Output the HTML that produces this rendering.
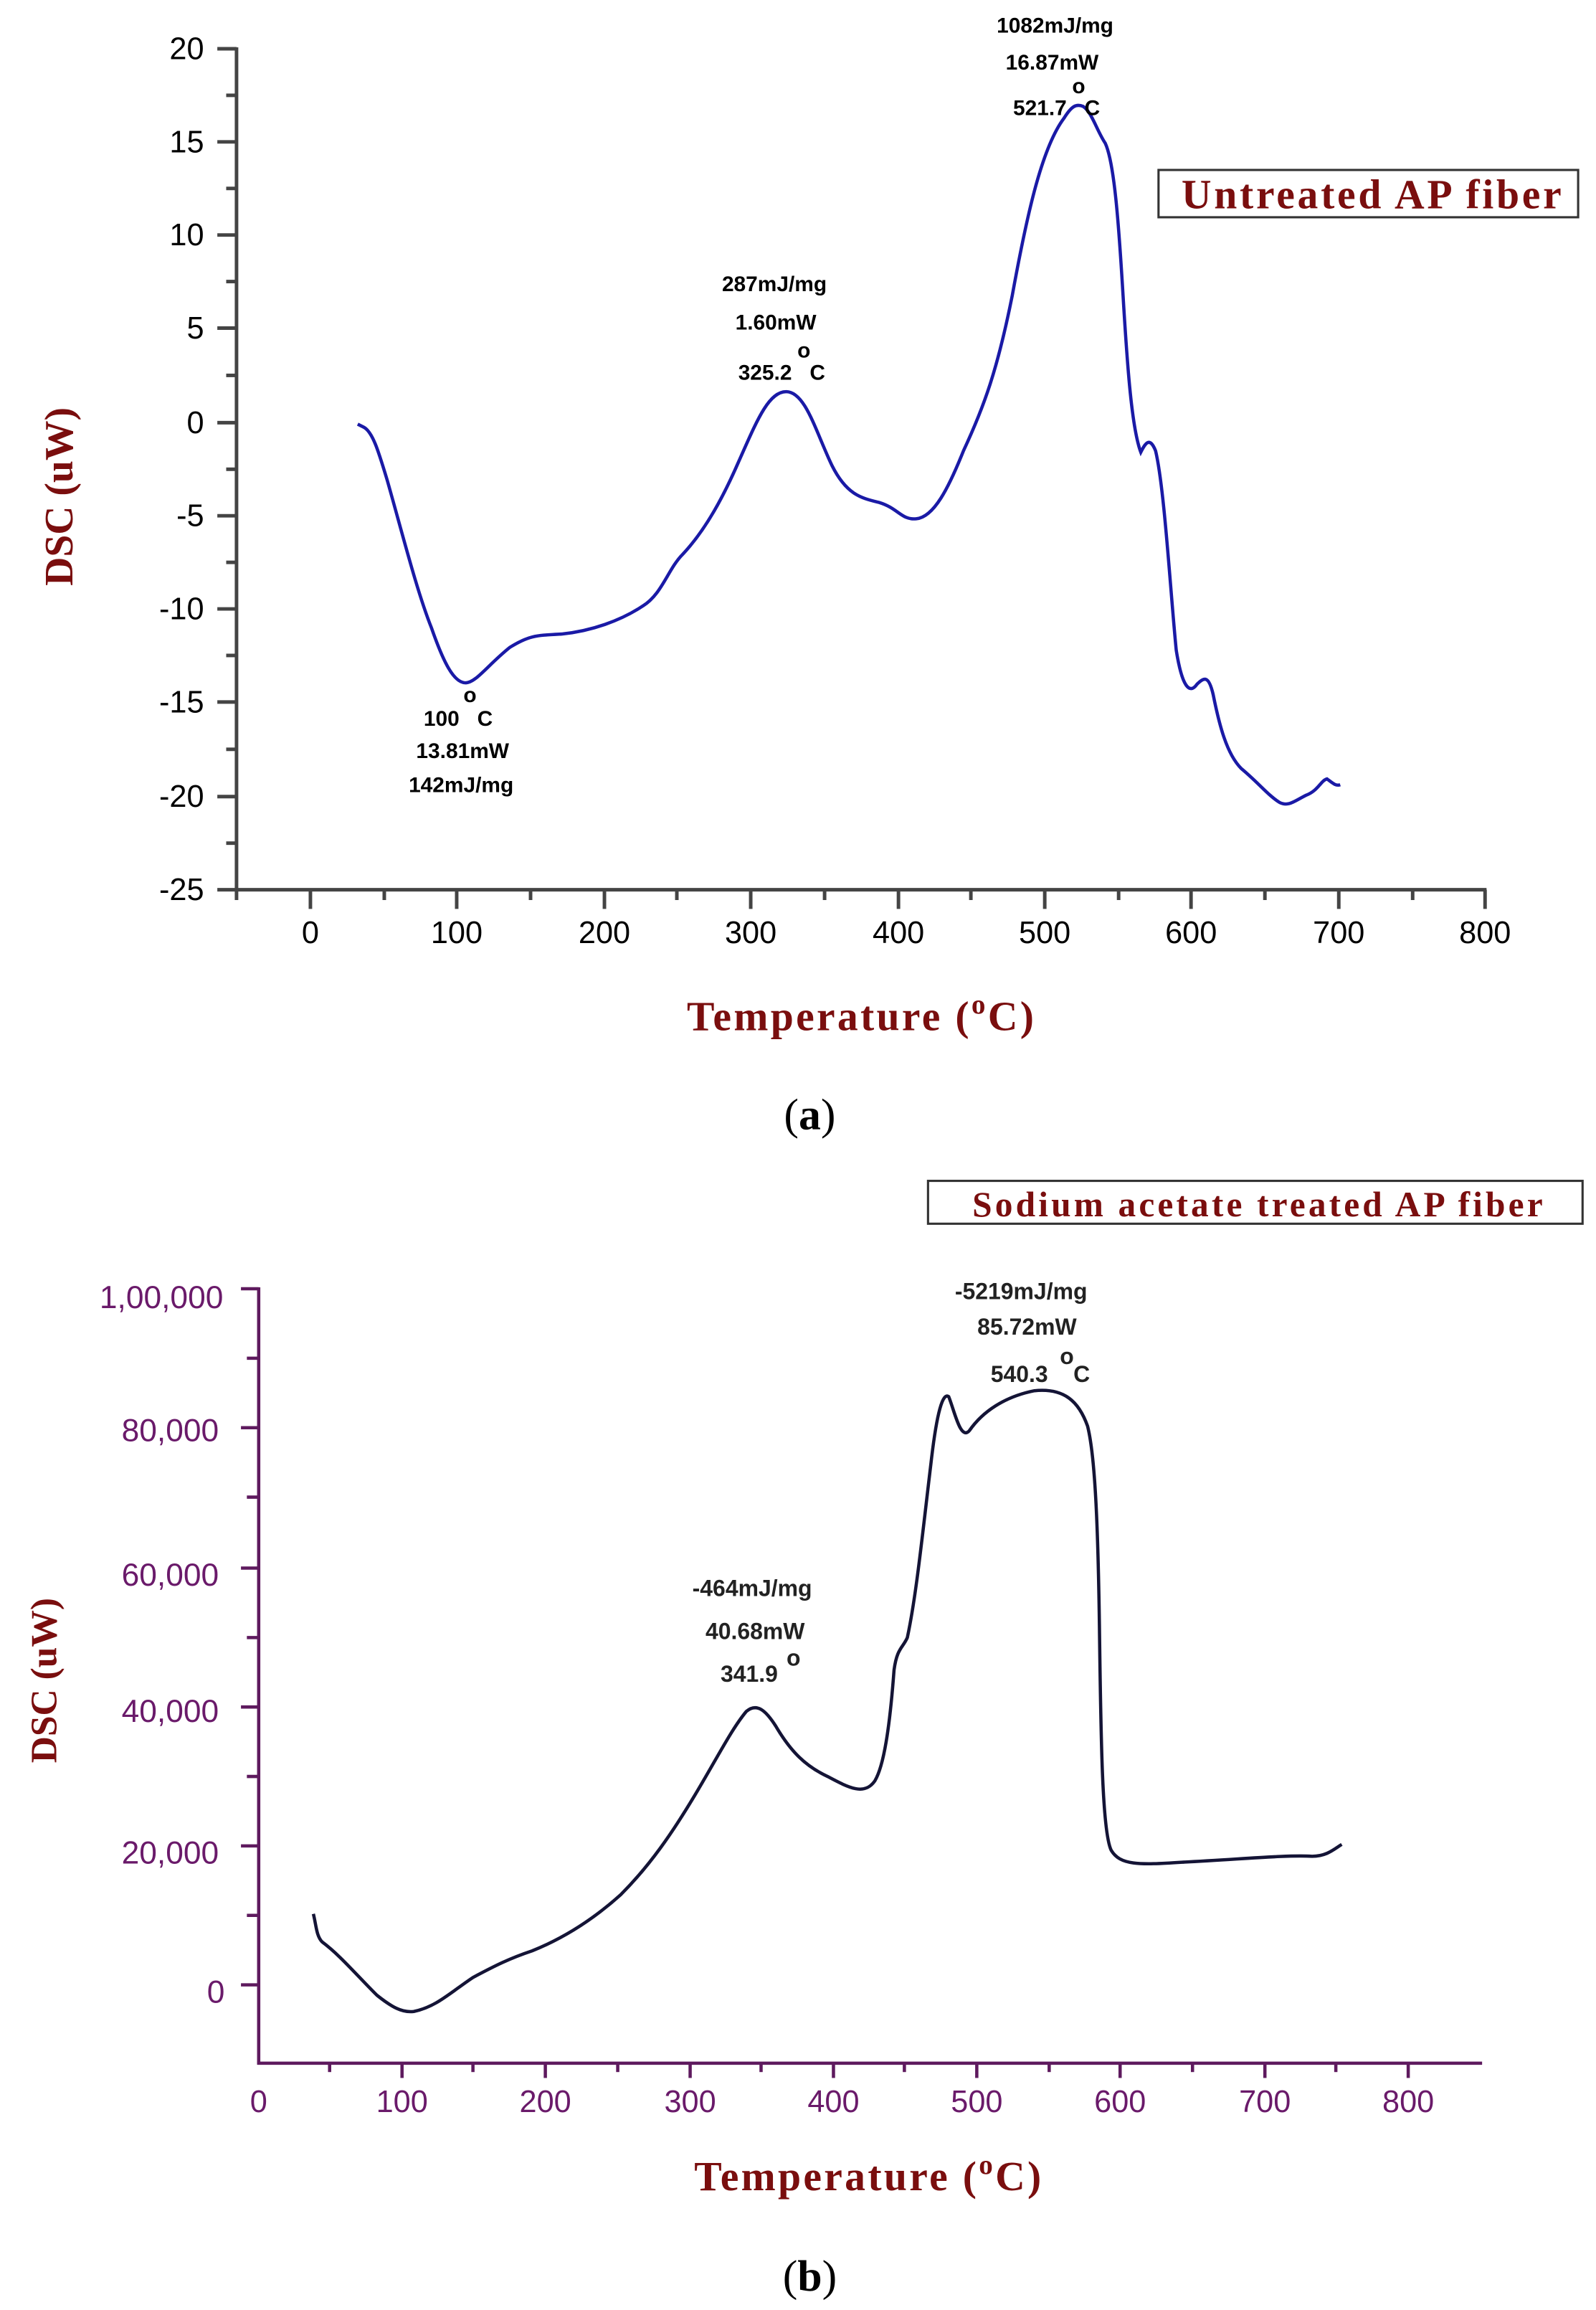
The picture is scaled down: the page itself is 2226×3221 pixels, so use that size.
<!DOCTYPE html>
<html><head><meta charset="utf-8"><style>
html,body{margin:0;padding:0;background:#fff;}
svg{display:block;}
</style></head><body>
<svg width="2226" height="3221" viewBox="0 0 1080 1563" xmlns="http://www.w3.org/2000/svg" font-family="Liberation Sans, sans-serif">
<rect width="1080" height="1563" fill="#fff"/>
<!-- Chart a -->
<g stroke="#444" stroke-width="2.4" fill="none">
<line x1="160" y1="32" x2="160" y2="603"/>
<line x1="158.8" y1="602" x2="1006" y2="602"/>
<line x1="147" y1="33" x2="160" y2="33"/><line x1="147" y1="96" x2="160" y2="96"/><line x1="147" y1="159" x2="160" y2="159"/><line x1="147" y1="222" x2="160" y2="222"/><line x1="147" y1="286" x2="160" y2="286"/><line x1="147" y1="349" x2="160" y2="349"/><line x1="147" y1="412" x2="160" y2="412"/><line x1="147" y1="475" x2="160" y2="475"/><line x1="147" y1="539" x2="160" y2="539"/><line x1="147" y1="602" x2="160" y2="602"/>
<line x1="153" y1="64.5" x2="160" y2="64.5"/><line x1="153" y1="127.5" x2="160" y2="127.5"/><line x1="153" y1="190.5" x2="160" y2="190.5"/><line x1="153" y1="254" x2="160" y2="254"/><line x1="153" y1="317.5" x2="160" y2="317.5"/><line x1="153" y1="380.5" x2="160" y2="380.5"/><line x1="153" y1="443.5" x2="160" y2="443.5"/><line x1="153" y1="507" x2="160" y2="507"/><line x1="153" y1="570.5" x2="160" y2="570.5"/>
<line x1="210" y1="602" x2="210" y2="615"/><line x1="309" y1="602" x2="309" y2="615"/><line x1="409" y1="602" x2="409" y2="615"/><line x1="508" y1="602" x2="508" y2="615"/><line x1="608" y1="602" x2="608" y2="615"/><line x1="707" y1="602" x2="707" y2="615"/><line x1="806" y1="602" x2="806" y2="615"/><line x1="906" y1="602" x2="906" y2="615"/><line x1="1005" y1="602" x2="1005" y2="615"/>
<line x1="160" y1="602" x2="160" y2="609"/><line x1="260" y1="602" x2="260" y2="609"/><line x1="359" y1="602" x2="359" y2="609"/><line x1="458" y1="602" x2="458" y2="609"/><line x1="558" y1="602" x2="558" y2="609"/><line x1="657" y1="602" x2="657" y2="609"/><line x1="757" y1="602" x2="757" y2="609"/><line x1="856" y1="602" x2="856" y2="609"/><line x1="956" y1="602" x2="956" y2="609"/>
</g>
<g font-size="21" fill="#000" text-anchor="end">
<text x="138" y="40">20</text><text x="138" y="103">15</text><text x="138" y="166">10</text><text x="138" y="229">5</text><text x="138" y="293">0</text><text x="138" y="356">-5</text><text x="138" y="419">-10</text><text x="138" y="482">-15</text><text x="138" y="546">-20</text><text x="138" y="609">-25</text>
</g>
<g font-size="21" fill="#000" text-anchor="middle">
<text x="210" y="638">0</text><text x="309" y="638">100</text><text x="409" y="638">200</text><text x="508" y="638">300</text><text x="608" y="638">400</text><text x="707" y="638">500</text><text x="806" y="638">600</text><text x="906" y="638">700</text><text x="1005" y="638">800</text>
</g>
<text x="583" y="697" font-family="Liberation Serif, serif" font-weight="bold" font-size="28" letter-spacing="1.6" fill="#7a0e0e" text-anchor="middle">Temperature (<tspan dy="-11" font-size="19">o</tspan><tspan dy="11">C)</tspan></text>
<text transform="translate(49,336) rotate(-90)" font-family="Liberation Serif, serif" font-weight="bold" font-size="27" fill="#7a0e0e" text-anchor="middle">DSC (uW)</text>
<rect x="784" y="115" width="284" height="32" fill="none" stroke="#333" stroke-width="1.5"/>
<text x="929" y="141" font-family="Liberation Serif, serif" font-weight="bold" font-size="28" letter-spacing="1.8" fill="#7a0e0e" text-anchor="middle">Untreated AP fiber</text>
<path fill="none" stroke="#1a1aa6" stroke-width="2.2" d="M242,287 L246,289 C252,292 256,305 262,325 C272,360 282,400 292,425 C300,448 307,462 315,462 C322,462 330,450 345,438 C358,430 362,430 380,429 C400,427 420,420 435,410 C448,402 452,385 462,375 C478,358 490,335 500,312 C512,285 520,265 532,265 C545,265 552,292 563,315 C573,335 583,337 595,340 C608,344 610,352 620,351 C632,350 642,330 652,305 C666,275 675,250 685,200 C695,145 705,100 720,80 C725,72 728,70 733,72 C739,76 742,88 748,97 C754,110 757,150 760,200 C763,250 766,290 772,306 C775,300 778,295 782,305 C788,330 792,400 796,440 C800,465 805,470 810,463 C815,458 818,457 821,470 C825,490 830,510 840,520 C852,530 858,538 866,543 C872,546 876,542 884,538 C892,535 894,528 898,527 C902,530 904,532 907,531"/>
<g font-size="14.5" font-weight="bold" fill="#000" text-anchor="middle">
<text x="714" y="22">1082mJ/mg</text><text x="712" y="47">16.87mW</text><text x="730" y="63">o</text><text x="715" y="78">521.7&#160;&#160;&#160;C</text>
<text x="524" y="197">287mJ/mg</text><text x="525" y="223">1.60mW</text><text x="544" y="242">o</text><text x="529" y="257">325.2&#160;&#160;&#160;C</text>
<text x="318" y="475">o</text><text x="310" y="491">100&#160;&#160;&#160;C</text><text x="313" y="513">13.81mW</text><text x="312" y="536">142mJ/mg</text>
</g>
<text x="548" y="764" font-family="Liberation Serif, serif" font-size="30" fill="#000" text-anchor="middle">(<tspan font-weight="bold">a</tspan>)</text>

<!-- Chart b -->
<rect x="628" y="799" width="443" height="29" fill="none" stroke="#333" stroke-width="1.5"/>
<text x="852" y="823" font-family="Liberation Serif, serif" font-weight="bold" font-size="24" fill="#7a0e0e" text-anchor="middle" letter-spacing="2">Sodium acetate treated AP fiber</text>
<g stroke="#5e1a5e" stroke-width="2.2" fill="none">
<line x1="175" y1="871" x2="175" y2="1397"/>
<line x1="174" y1="1396" x2="1003" y2="1396"/>
<line x1="163" y1="872" x2="175" y2="872"/><line x1="163" y1="966" x2="175" y2="966"/><line x1="163" y1="1061" x2="175" y2="1061"/><line x1="163" y1="1155" x2="175" y2="1155"/><line x1="163" y1="1249" x2="175" y2="1249"/><line x1="163" y1="1343" x2="175" y2="1343"/>
<line x1="167" y1="919" x2="175" y2="919"/><line x1="167" y1="1013" x2="175" y2="1013"/><line x1="167" y1="1108" x2="175" y2="1108"/><line x1="167" y1="1202" x2="175" y2="1202"/><line x1="167" y1="1296" x2="175" y2="1296"/>
<line x1="272" y1="1396" x2="272" y2="1406"/><line x1="369" y1="1396" x2="369" y2="1406"/><line x1="467" y1="1396" x2="467" y2="1406"/><line x1="564" y1="1396" x2="564" y2="1406"/><line x1="661" y1="1396" x2="661" y2="1406"/><line x1="758" y1="1396" x2="758" y2="1406"/><line x1="856" y1="1396" x2="856" y2="1406"/><line x1="953" y1="1396" x2="953" y2="1406"/>
<line x1="223" y1="1396" x2="223" y2="1402"/><line x1="320" y1="1396" x2="320" y2="1402"/><line x1="418" y1="1396" x2="418" y2="1402"/><line x1="515" y1="1396" x2="515" y2="1402"/><line x1="612" y1="1396" x2="612" y2="1402"/><line x1="710" y1="1396" x2="710" y2="1402"/><line x1="807" y1="1396" x2="807" y2="1402"/><line x1="904" y1="1396" x2="904" y2="1402"/>
</g>
<g font-size="21.5" fill="#6a1a6a" text-anchor="end">
<text x="151" y="885">1,00,000</text><text x="148" y="975">80,000</text><text x="148" y="1073">60,000</text><text x="148" y="1165">40,000</text><text x="148" y="1261">20,000</text><text x="152" y="1355">0</text>
</g>
<g font-size="21" fill="#6a1a6a" text-anchor="middle">
<text x="175" y="1429">0</text><text x="272" y="1429">100</text><text x="369" y="1429">200</text><text x="467" y="1429">300</text><text x="564" y="1429">400</text><text x="661" y="1429">500</text><text x="758" y="1429">600</text><text x="856" y="1429">700</text><text x="953" y="1429">800</text>
</g>
<text x="588" y="1482" font-family="Liberation Serif, serif" font-weight="bold" font-size="28" letter-spacing="1.6" fill="#7a0e0e" text-anchor="middle">Temperature (<tspan dy="-11" font-size="19">o</tspan><tspan dy="11">C)</tspan></text>
<text transform="translate(38,1137) rotate(-90)" font-family="Liberation Serif, serif" font-weight="bold" font-size="25" fill="#7a0e0e" text-anchor="middle">DSC (uW)</text>
<path fill="none" stroke="#141436" stroke-width="2.2" d="M212,1295 C214,1303 214,1310 218,1314 C230,1323 240,1335 255,1350 C265,1358 272,1362 280,1361 C295,1358 305,1348 320,1338 C335,1330 345,1325 360,1320 C380,1312 400,1300 420,1282 C440,1262 455,1240 470,1215 C485,1190 495,1170 505,1158 C512,1152 518,1157 525,1168 C535,1185 545,1195 560,1202 C575,1210 585,1215 592,1205 C598,1195 602,1170 605,1130 C607,1115 611,1115 614,1108 C620,1080 624,1040 630,990 C634,955 638,942 642,945 C646,955 650,975 656,968 C665,955 680,945 700,941 C720,939 730,948 736,965 C741,985 743,1030 744,1100 C745,1180 746,1240 752,1252 C758,1262 770,1262 800,1260 C840,1258 870,1255 888,1256 C898,1256 903,1251 908,1248"/>
<g font-size="15.5" font-weight="bold" fill="#222" text-anchor="middle">
<text x="691" y="879">-5219mJ/mg</text><text x="695" y="903">85.72mW</text><text x="722" y="923">o</text><text x="704" y="935">540.3&#160;&#160;&#160;&#160;C</text>
<text x="509" y="1080">-464mJ/mg</text><text x="511" y="1109">40.68mW</text><text x="537" y="1127">o</text><text x="507" y="1138">341.9</text>
</g>
<text x="548" y="1550" font-family="Liberation Serif, serif" font-size="30" fill="#000" text-anchor="middle">(<tspan font-weight="bold">b</tspan>)</text>
</svg>
</body></html>
